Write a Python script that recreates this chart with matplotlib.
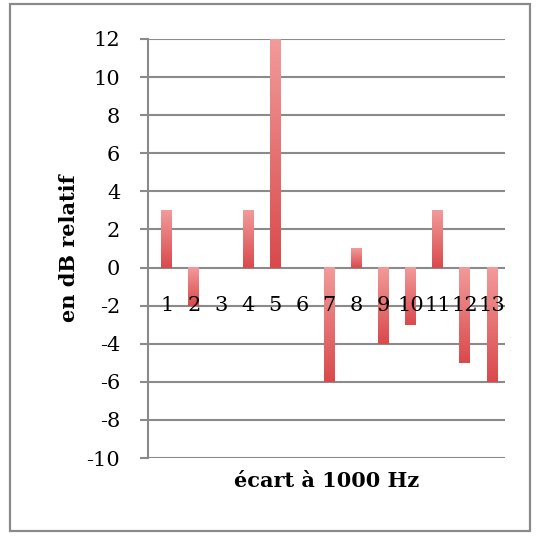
import numpy as np
import matplotlib
matplotlib.use('Agg')
import matplotlib.pyplot as plt
from matplotlib.colors import LinearSegmentedColormap
from matplotlib.patches import Rectangle

# data
categories = list(range(1, 14))
values = [3, -2, 0, 3, 12, 0, -6, 1, -4, -3, 3, -5, -6]
y_ticks = list(range(-10, 13, 2))

grey = '#8a8a8a'
cmap = LinearSegmentedColormap.from_list('bar', ['#d94a4c', '#f29a9a'])
grad = np.linspace(0, 1, 100).reshape(-1, 1)

plt.rcParams['font.family'] = ['DejaVu Serif']

fig = plt.figure(figsize=(5.41, 5.39), dpi=100)
fig.patches.append(Rectangle((10 / 541, 1 - 531 / 539), 520 / 541, 527 / 539,
                             transform=fig.transFigure, fill=False,
                             edgecolor=grey, lw=1.6))

ax = fig.add_axes([148 / 541, 1 - 458 / 539, 357 / 541, 419 / 539])

for y in y_ticks:
    ax.axhline(y, color=grey, lw=1.5, zorder=1)

w = 0.4
for x, v in zip(categories, values):
    ax.text(x, -2, str(x), ha='center', va='center', fontsize=15, zorder=3)
    if v == 0:
        continue
    lo, hi = min(0, v), max(0, v)
    ax.imshow(grad, cmap=cmap, origin='lower', aspect='auto',
              extent=[x - w / 2, x + w / 2, lo, hi], zorder=2)

ax.set_xlim(0.31, 13.48)
ax.set_ylim(-10, 12)
ax.set_yticks(y_ticks)
ax.set_yticklabels([str(t) for t in y_ticks], fontsize=15)
ax.set_xticks([])
ax.tick_params(axis='y', length=6, width=1.5, color=grey, pad=14)

for s in ['top', 'right', 'bottom']:
    ax.spines[s].set_visible(False)
ax.spines['left'].set_color(grey)
ax.spines['left'].set_linewidth(1.5)

ax.set_ylabel('en dB relatif', fontsize=15, fontweight='bold')
ax.set_xlabel('écart à 1000 Hz', fontsize=15, fontweight='bold')
ax.yaxis.set_label_coords(-0.193, 0.5)
ax.xaxis.set_label_coords(0.5, -0.031)

fig.savefig('out.png', dpi=100)
